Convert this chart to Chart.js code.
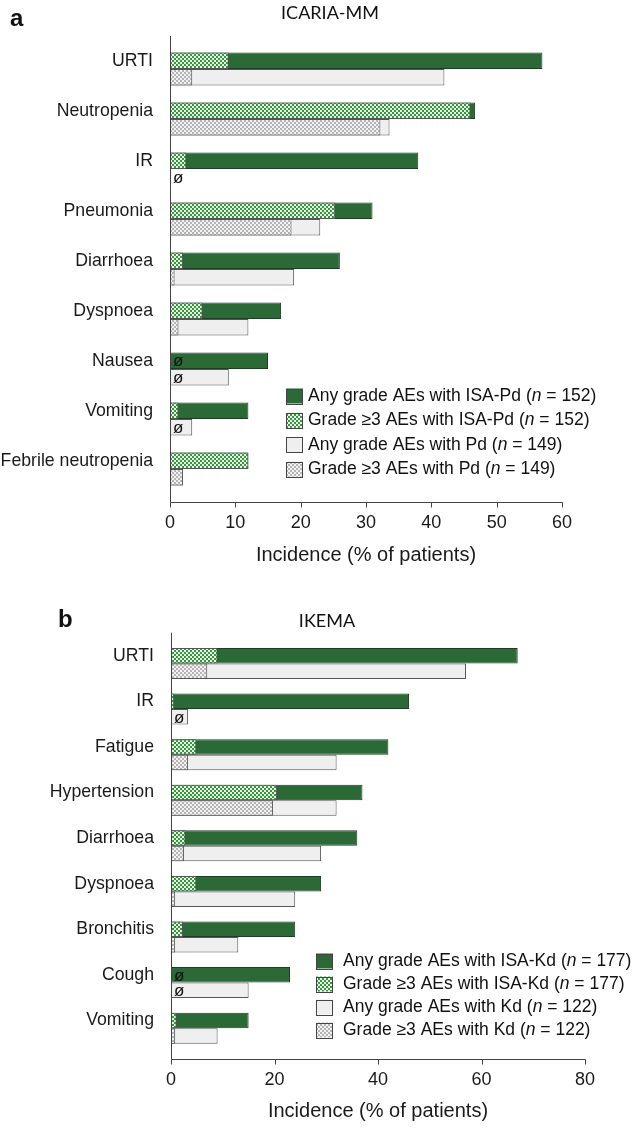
<!DOCTYPE html>
<html>
<head>
<meta charset="utf-8">
<script src="https://cdn.jsdelivr.net/npm/chart.js@4.4.1/dist/chart.umd.min.js"></script>
<style>
  body { margin: 0; background: #fff; width: 637px; height: 1129px; overflow: hidden; position: relative; }
  .box { position: absolute; left: 0; width: 637px; }
  #boxA { top: 0; height: 572px; }
  #boxB { top: 572px; height: 557px; }
</style>
</head>
<body>
<div class="box" id="boxA"><canvas id="chartA"></canvas></div>
<div class="box" id="boxB"><canvas id="chartB"></canvas></div>
<script>
// panel a - ICARIA-MM
const catsA = ['URTI', 'Neutropenia', 'IR', 'Pneumonia', 'Diarrhoea', 'Dyspnoea', 'Nausea', 'Vomiting', 'Febrile neutropenia'];
const isaPdAny = [57, 46.7, 38, 31, 26, 17, 15, 12, 12];
const isaPdG3  = [9, 46, 2.5, 25.3, 2, 5, 0, 1.3, 12];
const pdAny    = [42, 33.6, 0, 23, 19, 12, 9, 3.4, 2];
const pdG3     = [3.4, 32.2, 0, 18.6, 0.7, 1.3, 0, 0, 2];
const legendA  = ['Any grade AEs with ISA-Pd', 'Grade \u22653 AEs with ISA-Pd', 'Any grade AEs with Pd', 'Grade \u22653 AEs with Pd'];
const nA       = [152, 152, 149, 149];
const ticksA   = [0, 10, 20, 30, 40, 50, 60];

// panel b - IKEMA
const catsB = ['URTI', 'IR', 'Fatigue', 'Hypertension', 'Diarrhoea', 'Dyspnoea', 'Bronchitis', 'Cough', 'Vomiting'];
const isaKdAny = [67, 46, 42, 37, 36, 29, 24, 23, 15];
const isaKdG3  = [9, 0.6, 4.9, 20.5, 2.8, 4.9, 2.3, 0, 1.1];
const kdAny    = [57, 3.3, 32, 32, 29, 24, 13, 15, 9];
const kdG3     = [7, 0, 3.3, 19.7, 2.5, 0.8, 0.8, 0, 0.8];
const legendB  = ['Any grade AEs with ISA-Kd', 'Grade \u22653 AEs with ISA-Kd', 'Any grade AEs with Kd', 'Grade \u22653 AEs with Kd'];
const nB       = [177, 177, 122, 122];
const ticksB   = [0, 20, 40, 60, 80];

const FONT = '"Liberation Sans", Arial, Helvetica, sans-serif';
Chart.defaults.font.family = FONT;
Chart.defaults.color = '#1a1a1a';

function checks(c1, c2) {
  const cv = document.createElement('canvas');
  cv.width = 4; cv.height = 4;
  const g = cv.getContext('2d');
  g.fillStyle = c1; g.fillRect(0, 0, 4, 4);
  g.fillStyle = c2; g.fillRect(0, 0, 2, 2); g.fillRect(2, 2, 2, 2);
  return g.createPattern(cv, 'repeat');
}
const darkGreen = '#2b6a37';
const greenChecks = checks('#e8f4e8', '#36973f');
const lightGray = '#efefef';
const grayChecks = checks('#f2f2f2', '#b5b5b5');
const fills = [darkGreen, greenChecks, lightGray, grayChecks];

// axes, title, legend and the empty-set marks
const deco = {
  id: 'deco',
  afterDraw(chart, args, o) {
    const ctx = chart.ctx, a = chart.chartArea, xs = chart.scales.x;
    ctx.save();
    ctx.strokeStyle = '#444';
    ctx.lineWidth = 1;
    const ax = Math.round(a.left) + 0.5;
    const ay = Math.round(a.bottom + o.gap) + 0.5;
    ctx.beginPath();
    ctx.moveTo(ax, a.top - o.gap);
    ctx.lineTo(ax, ay);
    ctx.lineTo(Math.round(a.right) + 0.5, ay);
    xs.ticks.forEach(t => {
      const px = Math.round(xs.getPixelForValue(t.value)) + 0.5;
      ctx.moveTo(px, ay);
      ctx.lineTo(px, ay + 5);
    });
    ctx.stroke();

    // ø where grade >=3 is zero
    ctx.fillStyle = '#111';
    ctx.font = '17px ' + FONT;
    ctx.textAlign = 'left';
    ctx.textBaseline = 'middle';
    [1, 3].forEach(di => {
      const meta = chart.getDatasetMeta(di);
      chart.data.datasets[di].data.forEach((v, i) => {
        if (v === 0) ctx.fillText('\u00f8', xs.getPixelForValue(0) + 3, meta.data[i].y + 1);
      });
    });

    // panel letter and title
    ctx.font = 'bold 24px ' + FONT;
    ctx.textBaseline = 'alphabetic';
    ctx.fillText(o.letter, o.letterX, o.letterY);
    ctx.font = '18px Lato, "Open Sans", sans-serif';
    ctx.textAlign = 'center';
    ctx.fillText(o.title, o.titleX, o.titleY);

    // legend
    ctx.textAlign = 'left';
    ctx.textBaseline = 'middle';
    o.labels.forEach((lab, k) => {
      const y = o.legY + k * o.legStep;
      ctx.fillStyle = fills[k];
      ctx.fillRect(o.boxX, y - 7.5, 17, 15);
      ctx.strokeStyle = '#444';
      ctx.strokeRect(o.boxX + 0.5, Math.round(y - 7.5) + 0.5, 16, 15);
      ctx.fillStyle = '#111';
      let x = o.textX;
      const parts = [[lab + ' (', ''], ['n', 'italic '], [' = ' + o.ns[k] + ')', '']];
      parts.forEach(p => {
        ctx.font = p[1] + '17.5px ' + FONT;
        ctx.fillText(p[0], x, y);
        x += ctx.measureText(p[0]).width;
      });
    });
    ctx.restore();
  }
};

function makeChart(id, cats, series, max, ticks, cfg) {
  const ds = series.map((d, k) => ({
    label: cfg.labels[k],
    data: d,
    stack: k < 2 ? 'isa' : 'ctrl',
    order: k % 2 === 0 ? 2 : 1,
    backgroundColor: fills[k],
    borderColor: k === 0 ? '#1f3d24' : '#555',
    borderWidth: 1,
    barPercentage: 1,
    categoryPercentage: cfg.catPct
  }));
  return new Chart(document.getElementById(id), {
    type: 'bar',
    data: { labels: cats, datasets: ds },
    options: {
      indexAxis: 'y',
      responsive: true,
      maintainAspectRatio: false,
      animation: false,
      devicePixelRatio: 1,
      layout: { padding: { top: cfg.top, right: cfg.right, bottom: cfg.bottom, left: 0 } },
      plugins: { legend: { display: false }, tooltip: { enabled: false }, deco: cfg },
      scales: {
        x: {
          stacked: false,
          min: 0, max: max,
          afterBuildTicks: s => { s.ticks = ticks.map(v => ({ value: v })); },
          afterFit: s => { s.height = cfg.xh; },
          grid: { display: false, drawTicks: false },
          border: { display: false },
          ticks: { padding: 18.5, font: { size: 18 }, color: '#1a1a1a' },
          title: { display: true, text: 'Incidence (% of patients)', font: { size: 20 }, color: '#1a1a1a', padding: 0 }
        },
        y: {
          afterFit: s => { s.width = cfg.yw; },
          grid: { display: false, drawTicks: false },
          border: { display: false },
          ticks: { padding: 17, labelOffset: cfg.labOff, font: { size: 17.7 }, color: '#1a1a1a', autoSkip: false }
        }
      }
    },
    plugins: [deco]
  });
}

makeChart('chartA', catsA, [isaPdAny, isaPdG3, pdAny, pdG3], 60, ticksA, {
  labels: legendA, ns: nA, catPct: 0.66,
  top: 44, right: 75, bottom: 4.5, xh: 73.5, yw: 170, gap: 8, labOff: -8,
  letter: 'a', letterX: 10, letterY: 26, title: 'ICARIA-MM', titleX: 330, titleY: 18.5,
  boxX: 286, textX: 308, legY: 396, legStep: 24.4
});

makeChart('chartB', catsB, [isaKdAny, isaKdG3, kdAny, kdG3], 80, ticksB, {
  labels: legendB, ns: nB, catPct: 0.68,
  top: 68.7, right: 52, bottom: 5.5, xh: 72.5, yw: 171, gap: 8, labOff: -7.8,
  letter: 'b', letterX: 58, letterY: 55, title: 'IKEMA', titleX: 327, titleY: 54.7,
  boxX: 316, textX: 343, legY: 389, legStep: 23
});
</script>
</body>
</html>
